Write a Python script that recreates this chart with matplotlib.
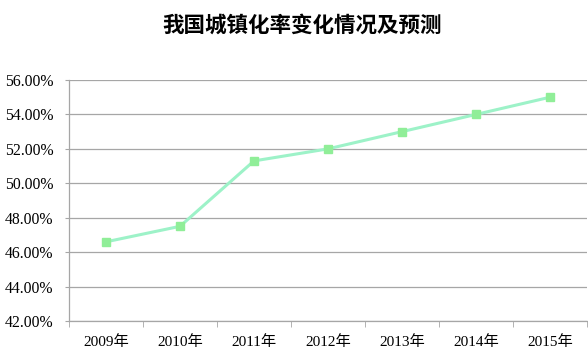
import matplotlib
matplotlib.use('Agg')
import matplotlib.pyplot as plt
from matplotlib.ticker import FuncFormatter, FixedLocator

plt.rcParams['font.family'] = ['Liberation Serif', 'Noto Sans CJK SC']

# dados
anos = ['2009年', '2010年', '2011年', '2012年', '2013年', '2014年', '2015年']
taxa = [46.6, 47.5, 51.3, 52.0, 53.0, 54.0, 55.0]

fig = plt.figure(figsize=(5.88, 3.57), dpi=100)
ax = fig.add_axes([0.1173, 0.1008, 0.8810, 0.6751])

x = list(range(len(anos)))
ax.plot(x, taxa, color='#9DF2C8', linewidth=2.2, marker='s', markersize=6,
        markerfacecolor='#90EE98', markeredgecolor='#90EE98', zorder=3)

ax.set_xlim(-0.5, len(anos) - 0.5)
ax.set_ylim(42, 56)
ax.set_yticks([42, 44, 46, 48, 50, 52, 54, 56])
ax.yaxis.set_major_formatter(FuncFormatter(lambda v, p: f'{v:.2f}%'))
ax.set_xticks(x)
ax.set_xticklabels(anos)
ax.xaxis.set_minor_locator(FixedLocator([i + 0.5 for i in range(-1, len(anos))]))

ax.grid(axis='y', color='#A6A6A6', linewidth=0.9)
ax.set_axisbelow(True)
for s in ['top', 'right']:
    ax.spines[s].set_visible(False)
for s in ['left', 'bottom']:
    ax.spines[s].set_color('#A6A6A6')
    ax.spines[s].set_linewidth(0.9)

ax.tick_params(axis='x', which='major', length=0, pad=10, labelsize=11)
ax.tick_params(axis='x', which='minor', length=4, color='#A6A6A6', direction='out')
ax.tick_params(axis='y', length=3, color='#A6A6A6', labelsize=11.3, pad=8)

fig.text(0.513, 0.93, '我国城镇化率变化情况及预测', ha='center', va='center',
         fontsize=15.5, fontweight='bold', family=['Noto Sans CJK SC'])

fig.savefig('out.png', dpi=100)
